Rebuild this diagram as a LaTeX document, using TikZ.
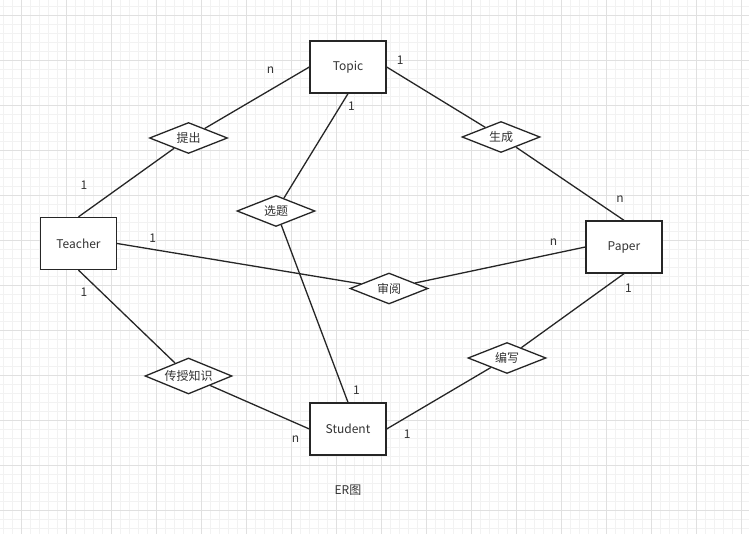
\documentclass[tikz,border=0pt]{standalone}
\usepackage{fontspec}
\setmainfont{Noto Sans CJK SC}
\usepackage{tikz}
\usetikzlibrary{positioning}
\usetikzlibrary{shapes.geometric}

\begin{document}
\begin{tikzpicture}[x=1pt, y=-1pt, every node/.style={font=\fontsize{12pt}{14pt}\selectfont, text=black!80},
	entit/.style={draw=black!85, line width=1.3pt, fill=white, rectangle, minimum width=76pt, minimum height=52pt, inner sep=0pt},
	relat/.style={draw=black!85, line width=1.3pt, fill=white, diamond, aspect=2.5, inner sep=0pt, minimum width=78pt, minimum height=31pt},
	card/.style={inner sep=0pt},
	gridmin/.style={draw=black!5, line width=.6pt}, gridmaj/.style={draw=black!12, line width=.6pt}]
	\fill[white] (0,0) rectangle (749,534);
	\useasboundingbox (0,0) rectangle (749,534);
	\foreach \i in {0,...,82} \draw[gridmin] ({3.5+9*\i},0) -- ({3.5+9*\i},534);
	\foreach \j in {0,...,58} \draw[gridmin] (0,{6+9*\j}) -- (749,{6+9*\j});
	\foreach \i in {0,...,16} \draw[gridmaj] ({21.5+45*\i},0) -- ({21.5+45*\i},534);
	\foreach \j in {0,...,11} \draw[gridmaj] (0,{15+45*\j}) -- (749,{15+45*\j});
	\node at (348,67) (topi) [entit] {Topic};
	\node at (78.5,243.5) (teac) [entit] {Teacher};
	\node at (624,247) (pape) [entit] {Paper};
	\node at (348,429) (stud) [entit] {Student};
	\node at (188.5,138) (propos) [relat] {提出};
	\node at (501,137) (genera) [relat] {生成};
	\node at (276,211) (selec) [relat] {选题};
	\node at (389,288.5) (revie) [relat] {审阅};
	\node at (188.5,376) (teachi) [relat, minimum width=87pt, minimum height=36pt] {传授知识};
	\node at (507,358) (writ) [relat] {编写};
	\begin{scope}[draw=black!85, line width=1.3pt]
	\draw (teac.north) -- (propos); \draw (propos) -- (topi.west);
	\draw (topi.east) -- (genera); \draw (genera) -- (pape.north);
	\draw (topi.south) -- (selec); \draw (selec) -- (stud.north);
	\draw (teac.east) -- (revie); \draw (revie) -- (pape.west);
	\draw (teac.south) -- (teachi); \draw (teachi) -- (stud.west);
	\draw (stud.east) -- (writ); \draw (writ) -- (pape.south);
	\end{scope}
	\node [card, below left=0pt and 35pt of topi.west] {n}; \node [card, above right=2pt and 10pt of topi.east] {1};
	\node [card, below right=8pt and 0pt of topi.south] {1};
	\node [card, above right=27pt and 2pt of teac.north] {1}; \node [card, above right=1pt and 32pt of teac.east] {1};
	\node [card, below right=18pt and 2pt of teac.south] {1};
	\node [card, above left=18pt and 0pt of pape.north] {n}; \node [card, above left=1pt and 28pt of pape.west] {n};
	\node [card, below right=10pt and 1pt of pape.south] {1};
	\node [card, above right=8pt and 5pt of stud.north] {1}; \node [card, below left=7pt and 10pt of stud.west] {n};
	\node [card, below right=1pt and 17pt of stud.east] {1};
	\node [card, below=29pt of stud.south] {ER图};
\end{tikzpicture}
\end{document}
